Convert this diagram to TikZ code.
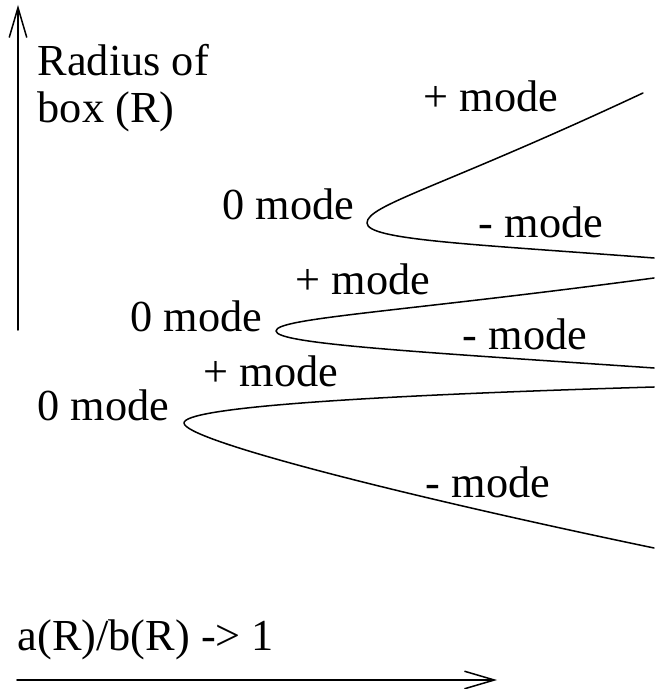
\documentclass[tikz,border=0pt]{standalone}
\usepackage{fontspec}
\setmainfont{Liberation Serif}
\usetikzlibrary{arrows.meta}
\begin{document}
\begin{tikzpicture}[x=0.01cm, y=-0.01cm, font=\fontsize{12.6}{13.4}\selectfont, line join=round, line cap=round, line width=0.43pt, >={Straight Barb[length=8.5pt,width=5pt]}]
			\tikzset{every node/.style={inner sep=0pt, anchor=base west}}
			\useasboundingbox (0,0) rectangle (654,689);
			% axes
			\coordinate (ybot) at (18,330);
			\coordinate (ytop) at (18,5);
			\coordinate (xlft) at (17,680);
			\coordinate (xrgt) at (497,680);
			\draw[->] (ybot)--(ytop);
			\draw[->] (xlft)--(xrgt);
			\node[align=left] (ylabel) at (37,123) {Radius of\\box (R)};
			\node (xlabel) at (17,650) {a(R)/b(R) -> 1};
			% mode labels
			\foreach \n/\lx/\ly/\lt in {pa/423/112/+ mode, za/222/220/0 mode, ma/478/238/- mode,
				pb/295/295/+ mode, zb/130/332/0 mode, mb/462/350/- mode,
				pc/203/387/+ mode, zc/37/421/0 mode, mc/425/497/- mode}
			\node (\n) at (\lx,\ly) {\lt};
			% branches
			\draw (643,93) .. controls (440,188) and (367,205) .. (367,223)
				.. controls (367,240) and (470,244) .. (654,258);
			\draw (654,278) .. controls (400,312) and (276,318) .. (276,331)
				.. controls (276,344) and (420,352) .. (654,368);
			\draw (654,387) .. controls (350,396) and (184,408) .. (184,423)
				.. controls (184,440) and (400,495) .. (654,548);
		\end{tikzpicture}
\end{document}
